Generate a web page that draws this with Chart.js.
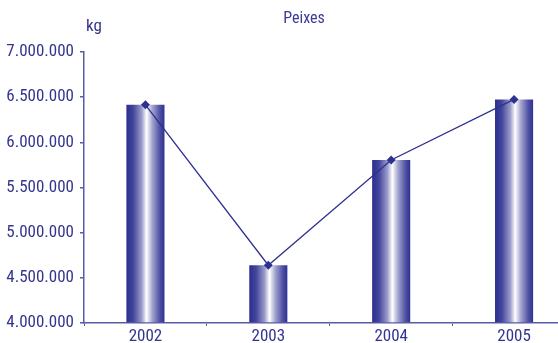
<!DOCTYPE html>
<html>
<head>
<meta charset="utf-8">
<script src="https://cdn.jsdelivr.net/npm/chart.js@4"></script>
<style>
html,body{margin:0;padding:0;background:#fff;overflow:hidden;width:558px;height:343px;}
canvas{display:block;}
</style>
</head>
<body>
<canvas id="c" width="580" height="343"></canvas>
<script>
const categories = ['2002', '2003', '2004', '2005'];
const values = [6415000, 4640000, 5805000, 6475000];
const yTicks = [4000000, 4500000, 5000000, 5500000, 6000000, 6500000, 7000000];
const titleText = 'Peixes';
const unitText = 'kg';

const NAVY = '#2e3192';
const TEXT = '#33348f';
const AXIS = '#5a5aa6';
const FONT = "'Roboto Condensed', 'DejaVu Sans Condensed', sans-serif";
const BAR_FRACTION = 0.31;

function fmt(v){ return String(v).replace(/\B(?=(\d{3})+(?!\d))/g, '.'); }

function barGradient(ctx){
  const chart = ctx.chart;
  const xs = chart.scales && chart.scales.x;
  if (!xs || ctx.type !== 'data' || !isFinite(xs.width) || xs.width <= 0) return NAVY;
  const cx = xs.getPixelForValue(ctx.dataIndex);
  const w = (xs.width / categories.length) * BAR_FRACTION;
  const g = chart.ctx.createLinearGradient(cx - w/2, 0, cx + w/2, 0);
  g.addColorStop(0, '#2b2e8d');
  g.addColorStop(0.18, '#43469c');
  g.addColorStop(0.40, '#9a9bca');
  g.addColorStop(0.53, '#ffffff');
  g.addColorStop(0.68, '#a3a4cf');
  g.addColorStop(0.88, '#4e50a2');
  g.addColorStop(1, '#2e3192');
  return g;
}

const textPlugin = {
  id: 'texts',
  afterDraw(chart){
    const c = chart.ctx;
    c.save();
    c.fillStyle = TEXT;
    c.font = "17px " + FONT;
    c.textBaseline = 'middle';
    c.textAlign = 'left';
    c.fillText(unitText, 86, 27);
    c.fillStyle = '#3a3b9a';
    c.font = "16px " + FONT;
    c.textAlign = 'center';
    c.fillText(titleText, 304, 19);
    c.restore();
  }
};

new Chart(document.getElementById('c'), {
  data: {
    labels: categories,
    datasets: [
      {
        type: 'line',
        data: values,
        borderColor: NAVY,
        borderWidth: 1.3,
        backgroundColor: NAVY,
        pointStyle: 'rectRot',
        pointRadius: 4.5,
        pointBackgroundColor: NAVY,
        pointBorderColor: NAVY,
        pointBorderWidth: 0,
        tension: 0,
        order: 0
      },
      {
        type: 'bar',
        data: values,
        backgroundColor: barGradient,
        borderWidth: 0,
        categoryPercentage: 1,
        barPercentage: BAR_FRACTION,
        base: 4000000,
        order: 1
      }
    ]
  },
  plugins: [textPlugin],
  options: {
    responsive: false,
    animation: false,
    layout: { padding: { top: 52, left: 0, right: 0, bottom: 0 } },
    plugins: { legend: { display: false }, tooltip: { enabled: false }, title: { display: false } },
    scales: {
      x: {
        offset: true,
        grid: { display: true, offset: true, drawOnChartArea: false, drawTicks: true, tickLength: 3, color: AXIS, lineWidth: 1 },
        border: { display: true, color: AXIS, width: 1.5 },
        ticks: { color: TEXT, font: { family: FONT, size: 17 }, padding: 1, maxRotation: 0, autoSkip: false },
        afterFit(s){ s.height = 20; }
      },
      y: {
        min: 4000000,
        max: 7000000,
        afterBuildTicks(s){ s.ticks = yTicks.map(v => ({ value: v })); },
        grid: { display: true, drawOnChartArea: false, drawTicks: true, tickLength: 4, color: AXIS, lineWidth: 1.5 },
        border: { display: true, color: AXIS, width: 1.5 },
        ticks: { color: TEXT, font: { family: FONT, size: 17 }, padding: 6, callback: v => fmt(v) },
        afterFit(s){ s.width = 84; }
      }
    }
  }
});
</script>
</body>
</html>
